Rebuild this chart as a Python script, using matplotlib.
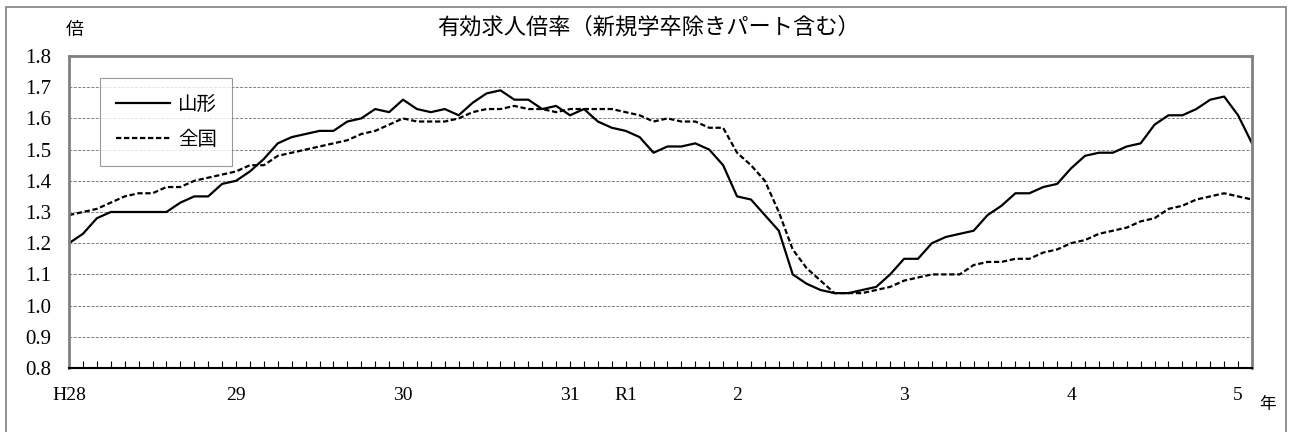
import numpy as np
import matplotlib
matplotlib.use('Agg')
import matplotlib.pyplot as plt
from matplotlib.patches import Rectangle

# 月次データ（H28年1月～R5年2月）
yamagata = [1.20, 1.23, 1.28, 1.30, 1.30, 1.30, 1.30, 1.30, 1.33, 1.35, 1.35, 1.39, 1.40, 1.43, 1.47, 1.52,
            1.54, 1.55, 1.56, 1.56, 1.59, 1.60, 1.63, 1.62, 1.66, 1.63, 1.62, 1.63, 1.61,
            1.65, 1.68, 1.69, 1.66, 1.66, 1.63, 1.64, 1.61, 1.63, 1.59, 1.57, 1.56, 1.54, 1.49, 1.51,
            1.51, 1.52, 1.50, 1.45, 1.35, 1.34, 1.29, 1.24, 1.10, 1.07, 1.05, 1.04, 1.04, 1.05,
            1.06, 1.10, 1.15, 1.15, 1.20, 1.22, 1.23, 1.24, 1.29, 1.32, 1.36, 1.36, 1.38, 1.39,
            1.44, 1.48, 1.49, 1.49, 1.51, 1.52, 1.58, 1.61, 1.61, 1.63, 1.66, 1.67, 1.61, 1.52]
zenkoku = [1.29, 1.30, 1.31, 1.33, 1.35, 1.36, 1.36, 1.38, 1.38, 1.40, 1.41, 1.42, 1.43, 1.45, 1.45, 1.48,
           1.49, 1.50, 1.51, 1.52, 1.53, 1.55, 1.56, 1.58, 1.60, 1.59, 1.59, 1.59, 1.60,
           1.62, 1.63, 1.63, 1.64, 1.63, 1.63, 1.62, 1.63, 1.63, 1.63, 1.63, 1.62, 1.61, 1.59, 1.60,
           1.59, 1.59, 1.57, 1.57, 1.49, 1.45, 1.40, 1.30, 1.18, 1.12, 1.08, 1.04, 1.04, 1.04,
           1.05, 1.06, 1.08, 1.09, 1.10, 1.10, 1.10, 1.13, 1.14, 1.14, 1.15, 1.15, 1.17, 1.18,
           1.20, 1.21, 1.23, 1.24, 1.25, 1.27, 1.28, 1.31, 1.32, 1.34, 1.35, 1.36, 1.35, 1.34]
year_pos = [0, 12, 24, 36, 40, 48, 60, 72, 84]
year_labels = ['H28', '29', '30', '31', 'R1', '2', '3', '4', '5']
y_ticks = [0.8, 0.9, 1.0, 1.1, 1.2, 1.3, 1.4, 1.5, 1.6, 1.7, 1.8]

jp = 'Noto Sans CJK JP'
num = 'Liberation Serif'

W, H = 1289, 432
fig = plt.figure(figsize=(W / 100, H / 100), dpi=100)
ax = fig.add_axes([69 / W, 1 - 368 / H, (1252 - 69) / W, (368 - 56) / H])

months = np.arange(len(yamagata))
ax.plot(months, yamagata, color='black', lw=1.6, label='山形')
ax.plot(months, zenkoku, color='black', lw=1.6, ls=(0, (2.4, 1.2)), label='全国')

ax.set_xlim(0, len(yamagata) - 1)
ax.set_ylim(0.8, 1.8)

# y軸
ax.set_yticks(y_ticks)
ax.set_yticklabels([f'{v:.1f}' for v in y_ticks], family=num, fontsize=15)
ax.tick_params(axis='y', length=0, pad=13)
ax.yaxis.grid(True, color='#808080', ls=(0, (3, 1.5)), lw=0.7)

# x軸（毎月の目盛り）
ax.set_xticks(year_pos)
ax.set_xticklabels(year_labels, family=num, fontsize=14)
ax.set_xticks(months, minor=True)
ax.tick_params(axis='x', which='both', direction='in', length=5, width=0.8, pad=14)

for s in ['left', 'top', 'right']:
    ax.spines[s].set_color('#808080')
    ax.spines[s].set_linewidth(2)
ax.spines['bottom'].set_color('black')
ax.spines['bottom'].set_linewidth(1.5)

leg = ax.legend(loc='upper left', bbox_to_anchor=(100 / W, 1 - 78 / H),
                bbox_transform=fig.transFigure, borderaxespad=0,
                prop={'family': jp, 'size': 14}, frameon=True, fancybox=False,
                handlelength=2.8, handletextpad=0.4, labelspacing=0.75, borderpad=0.8)
leg.get_frame().set_edgecolor('#808080')
leg.get_frame().set_linewidth(0.8)

fig.text(648 / W, 1 - 27 / H, '有効求人倍率（新規学卒除きパート含む）', family=jp,
         fontsize=16, ha='center', va='center')
fig.text(75 / W, 1 - 30 / H, '倍', family=jp, fontsize=13, ha='center', va='center')
fig.text(1268 / W, 1 - 404 / H, '年', family=jp, fontsize=12, ha='center', va='center')

# 外枠
fig.patches.append(Rectangle((6 / W, -0.02), (1286 - 6) / W, 1 - 7 / H + 0.02,
                             transform=fig.transFigure, fill=False,
                             edgecolor='#808080', lw=1.2))

fig.savefig('out.png', dpi=100)
